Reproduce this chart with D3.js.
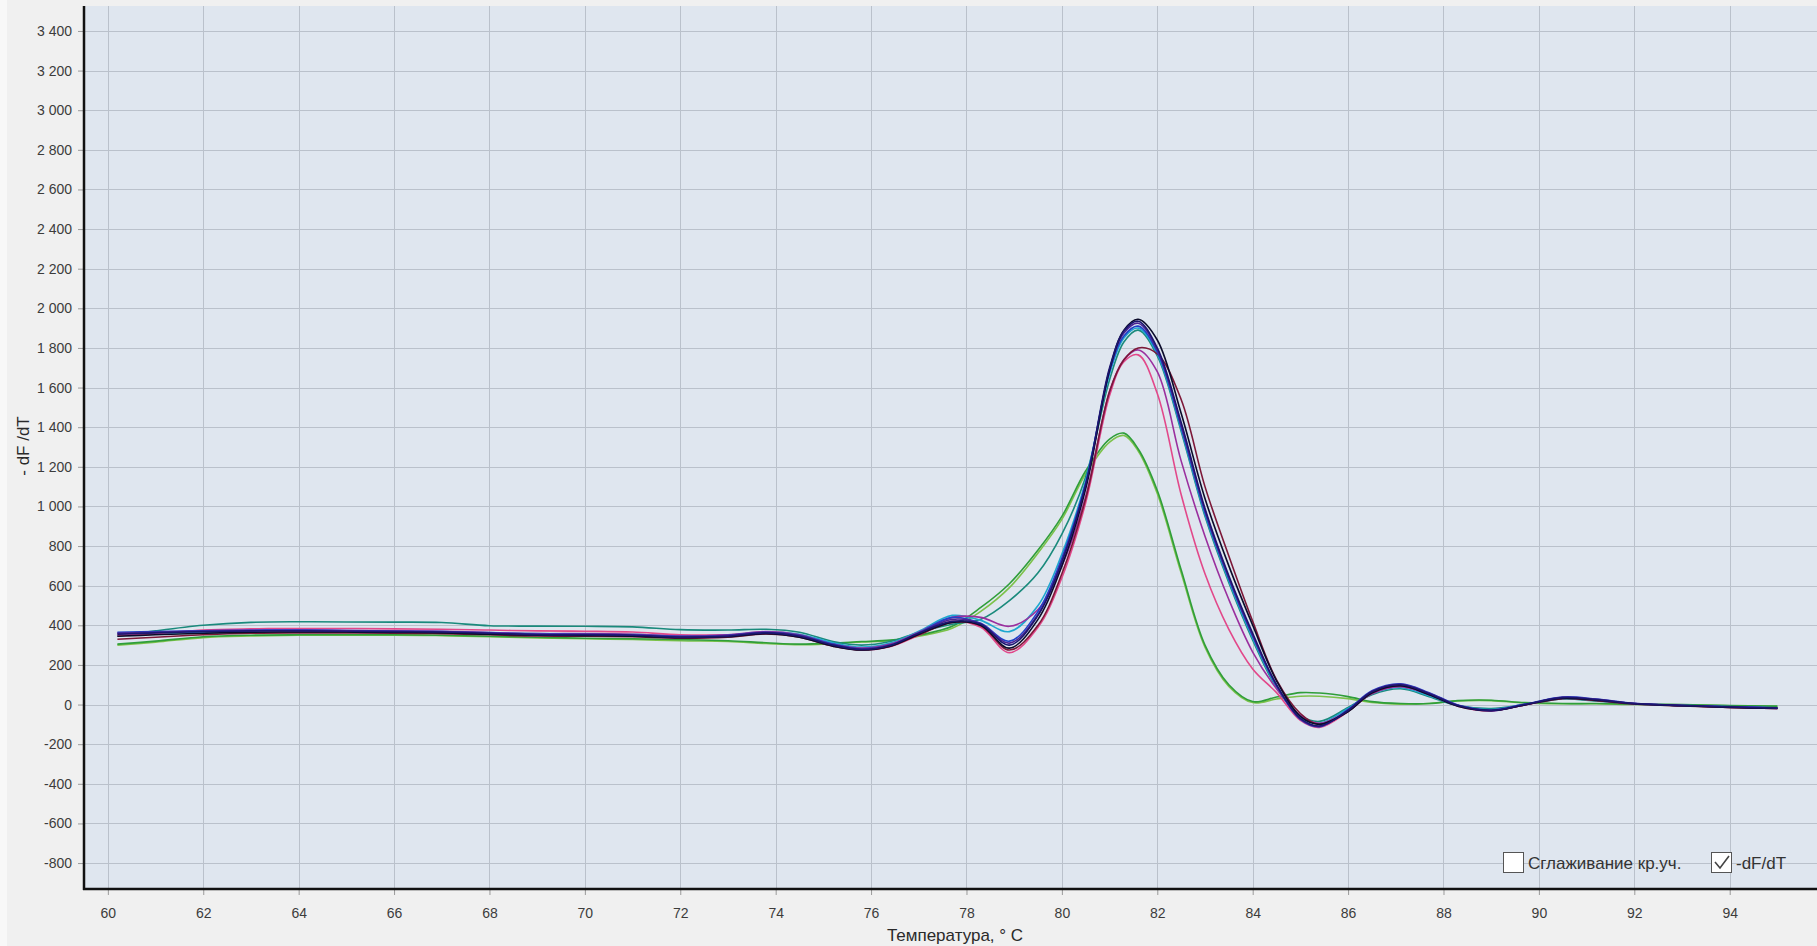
<!DOCTYPE html>
<html>
<head>
<meta charset="utf-8">
<script src="https://cdnjs.cloudflare.com/ajax/libs/d3/7.8.5/d3.min.js"></script>
<style>
  body { margin: 0; background: #f0f0f0; overflow: hidden; }
  svg { display: block; }
  .axis text { font-family: "Liberation Sans", Arial, sans-serif; font-size: 14px; fill: #3c3c3c; }
  .label { font-family: "Liberation Sans", Arial, sans-serif; font-size: 17px; fill: #2a2a2a; }
  .legend text { font-family: "Liberation Sans", Arial, sans-serif; font-size: 17px; fill: #333; }
</style>
</head>
<body>
<svg></svg>
<script>
// melt curve, -dF/dT vs temperature

var temps = [60.2, 61, 62, 63, 64, 65, 66, 67, 68, 69, 70, 71, 72, 73, 73.8, 74.5, 75.2, 75.8, 76.4, 77,
  77.7, 78.3, 78.9, 79.5, 80, 80.5, 81, 81.3, 81.6, 82, 82.5, 83, 83.5, 84, 84.5, 85, 85.4, 86, 86.5, 87.1,
  87.7, 88.3, 89, 89.7, 90.5, 91.2, 92, 93, 94, 95];

var navy = [355, 362, 368, 372, 372, 370, 368, 366, 360, 352, 352, 350, 340, 345, 362, 345, 300, 278, 298, 360,
  420, 405, 300, 450, 720, 1110, 1700, 1885, 1935, 1800, 1425, 990, 650, 360, 100, -70, -108, -30, 65, 100,
  55, -5, -30, 0, 35, 25, 5, -5, -12, -18];
var black = [345, 352, 360, 365, 366, 366, 364, 362, 355, 350, 348, 345, 338, 342, 358, 340, 295, 275, 295, 355,
  415, 400, 285, 430, 700, 1090, 1690, 1890, 1945, 1840, 1470, 1040, 700, 400, 120, -60, -100, -35, 60, 95,
  50, -8, -30, -2, 32, 22, 4, -6, -14, -20];
var blue = [365, 368, 372, 375, 376, 374, 370, 368, 362, 356, 355, 352, 344, 350, 365, 350, 305, 282, 300, 362,
  440, 410, 320, 470, 740, 1120, 1680, 1860, 1910, 1780, 1400, 970, 635, 345, 95, -75, -112, -25, 70, 105,
  60, -2, -28, 2, 38, 28, 6, -4, -10, -16];
var violet = [360, 365, 370, 372, 373, 372, 369, 367, 360, 354, 354, 351, 342, 348, 364, 348, 302, 280, 300, 360,
  430, 408, 310, 455, 725, 1105, 1690, 1875, 1925, 1790, 1410, 980, 640, 350, 98, -72, -110, -28, 66, 102,
  57, -4, -32, -1, 36, 26, 5, -5, -12, -18];
var cyan = [350, 358, 366, 372, 374, 372, 370, 368, 364, 358, 356, 354, 346, 352, 366, 355, 312, 290, 310, 370,
  450, 425, 368, 500, 760, 1130, 1670, 1850, 1900, 1770, 1390, 960, 625, 335, 90, -65, -95, -20, 55, 85,
  45, -5, -25, 0, 30, 20, 4, -6, -12, -18];
var teal = [345, 372, 400, 415, 418, 417, 416, 414, 398, 396, 395, 392, 378, 376, 380, 365, 318, 300, 318, 365,
  405, 430, 525, 665, 860, 1150, 1640, 1830, 1890, 1760, 1380, 950, 615, 325, 85, -55, -85, -15, 50, 80,
  40, -5, -20, 0, 28, 18, 3, -6, -12, -16];
var green1 = [305, 320, 342, 350, 352, 352, 352, 350, 345, 340, 335, 332, 328, 322, 312, 305, 310, 318, 325, 350,
  395, 490, 610, 780, 950, 1180, 1340, 1370, 1290, 1080, 680, 300, 100, 15, 38, 60, 58, 40, 15, 5,
  5, 20, 22, 10, 5, 5, 2, 0, -5, -8];
var green2 = [300, 315, 338, 346, 350, 350, 350, 348, 342, 336, 332, 328, 322, 318, 308, 302, 308, 316, 322, 345,
  385, 470, 590, 765, 935, 1165, 1325, 1358, 1280, 1065, 665, 290, 92, 10, 28, 42, 42, 30, 10, 2,
  5, 18, 20, 8, 4, 4, 0, -2, -6, -10];
var purple = [360, 366, 372, 376, 376, 374, 372, 370, 364, 358, 358, 355, 346, 352, 368, 352, 305, 285, 305, 365,
  440, 440, 395, 480, 700, 1050, 1580, 1740, 1790, 1680, 1230, 850, 530, 265, 80, -55, -95, -30, 55, 90,
  50, -5, -28, 0, 32, 22, 4, -6, -12, -18];
var pink = [350, 358, 376, 382, 384, 384, 382, 380, 376, 372, 370, 366, 352, 352, 362, 345, 298, 275, 292, 350,
  420, 390, 262, 390, 640, 1020, 1560, 1730, 1765, 1570, 1060, 660, 380, 180, 60, -80, -115, -35, 60, 95,
  55, -8, -32, -2, 34, 24, 5, -5, -14, -20];
var darkRed = [330, 340, 352, 360, 362, 362, 360, 358, 352, 346, 345, 342, 335, 340, 356, 340, 295, 276, 294, 352,
  415, 398, 275, 400, 660, 1040, 1580, 1740, 1800, 1770, 1540, 1100, 750, 420, 125, -45, -100, -35, 58, 95,
  52, -6, -30, -2, 30, 20, 3, -7, -14, -20];

var xTickValues = [60, 62, 64, 66, 68, 70, 72, 74, 76, 78, 80, 82, 84, 86, 88, 90, 92, 94];
var yTickValues = [-800, -600, -400, -200, 0, 200, 400, 600, 800, 1000, 1200, 1400, 1600, 1800, 2000,
  2200, 2400, 2600, 2800, 3000, 3200, 3400];

var xLabel = 'Температура, ° С';
var yLabel = '- dF /dT';
var legendLabels = ['Сглаживание кр.уч.', '-dF/dT'];
var legendChecked = [false, true];

var width = 1817;
var height = 946;
var plot = { left: 84, right: 1817, top: 6, bottom: 889 };

var svg = d3.select('svg')
  .attr('width', width)
  .attr('height', height);

// draw order: back to front
var series = [
  { values: green2, color: '#7cc24a' },
  { values: green1, color: '#2f9e3a' },
  { values: teal, color: '#1a8a7c' },
  { values: cyan, color: '#1ea7cf' },
  { values: pink, color: '#e2488a' },
  { values: purple, color: '#9a2f9e' },
  { values: darkRed, color: '#7d1838' },
  { values: blue, color: '#2140c8' },
  { values: violet, color: '#4b2393' },
  { values: black, color: '#0b0b2a' },
  { values: navy, color: '#1c1670' }
];

var x = d3.scaleLinear().domain([59.5, 95.83]).range([plot.left, plot.right]);
var y = d3.scaleLinear().domain([-931, 3526]).range([plot.bottom, plot.top]);

svg.append('rect')
  .attr('x', 0).attr('y', 0)
  .attr('width', 7).attr('height', height)
  .attr('fill', '#f8f8f8');

svg.append('rect')
  .attr('x', plot.left).attr('y', plot.top)
  .attr('width', plot.right - plot.left).attr('height', plot.bottom - plot.top)
  .attr('fill', '#dfe6ef');

// grid
var grid = svg.append('g').attr('class', 'grid');
grid.selectAll('.vgrid')
  .data(xTickValues)
  .enter().append('line')
  .attr('x1', d => Math.round(x(d)) + 0.5).attr('x2', d => Math.round(x(d)) + 0.5)
  .attr('y1', plot.top).attr('y2', plot.bottom)
  .attr('stroke', '#bac1cb');
grid.selectAll('.hgrid')
  .data(yTickValues)
  .enter().append('line')
  .attr('x1', plot.left).attr('x2', plot.right)
  .attr('y1', d => Math.round(y(d)) + 0.5).attr('y2', d => Math.round(y(d)) + 0.5)
  .attr('stroke', '#bac1cb');

svg.append('clipPath').attr('id', 'clip')
  .append('rect')
  .attr('x', plot.left).attr('y', plot.top)
  .attr('width', plot.right - plot.left).attr('height', plot.bottom - plot.top);

var line = d3.line()
  .x((d, i) => x(temps[i]))
  .y(d => y(d))
  .curve(d3.curveCatmullRom.alpha(0.5));

svg.append('g')
  .attr('clip-path', 'url(#clip)')
  .selectAll('path')
  .data(series)
  .enter().append('path')
  .attr('d', d => line(d.values))
  .attr('fill', 'none')
  .attr('stroke', d => d.color)
  .attr('stroke-width', 1.6)
  .attr('stroke-linejoin', 'round');

// axes
var locale = d3.formatLocale({ decimal: ',', thousands: '\u00a0', grouping: [3], currency: ['', ''], minus: '-' });
var yFormat = locale.format(',d');

var xAxis = svg.append('g')
  .attr('class', 'axis')
  .attr('transform', 'translate(0,' + plot.bottom + ')')
  .call(d3.axisBottom(x).tickValues(xTickValues).tickSize(6).tickPadding(13).tickFormat(d3.format('d')));
var yAxis = svg.append('g')
  .attr('class', 'axis')
  .attr('transform', 'translate(' + plot.left + ',0)')
  .call(d3.axisLeft(y).tickValues(yTickValues).tickSize(6).tickPadding(6).tickFormat(yFormat));
xAxis.select('.domain').remove();
yAxis.select('.domain').remove();
svg.selectAll('.axis .tick line').attr('stroke', '#9a9a9a');

svg.append('line')
  .attr('x1', plot.left).attr('x2', plot.left)
  .attr('y1', plot.top).attr('y2', plot.bottom + 1)
  .attr('stroke', '#111').attr('stroke-width', 2.5);
svg.append('line')
  .attr('x1', plot.left - 1).attr('x2', plot.right)
  .attr('y1', plot.bottom).attr('y2', plot.bottom)
  .attr('stroke', '#111').attr('stroke-width', 2.5);

svg.append('text')
  .attr('class', 'label')
  .attr('x', 955).attr('y', 941)
  .attr('text-anchor', 'middle')
  .text(xLabel);
svg.append('text')
  .attr('class', 'label')
  .attr('transform', 'translate(23,446) rotate(-90)')
  .attr('text-anchor', 'middle')
  .attr('dominant-baseline', 'central')
  .text(yLabel);

// legend (check boxes)
var legendX = [1503, 1711];
var legend = svg.append('g').attr('class', 'legend');
var items = legend.selectAll('g')
  .data(legendLabels)
  .enter().append('g')
  .attr('transform', (d, i) => 'translate(' + legendX[i] + ',852)');
items.append('rect')
  .attr('x', 0.5).attr('y', 0.5)
  .attr('width', 20).attr('height', 20)
  .attr('fill', '#fff')
  .attr('stroke', '#555');
items.filter((d, i) => legendChecked[i])
  .append('path')
  .attr('d', 'M4,10 L9,16 L18,4')
  .attr('fill', 'none')
  .attr('stroke', '#444')
  .attr('stroke-width', 1.6);
items.append('text')
  .attr('x', 25).attr('y', 17)
  .text(d => d);
</script>
</body>
</html>
